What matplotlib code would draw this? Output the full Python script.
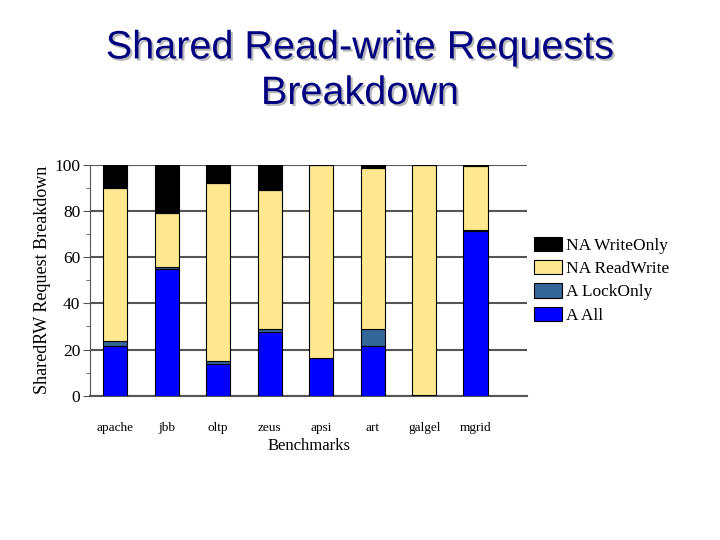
import matplotlib
matplotlib.use('Agg')
import matplotlib.pyplot as plt
import matplotlib.patheffects as pe
import numpy as np
from matplotlib.ticker import MultipleLocator

# Data (percent of shared RW requests)
benchmarks = ['apache', 'jbb', 'oltp', 'zeus', 'apsi', 'art', 'galgel', 'mgrid']
a_all = [21.5, 54.8, 13.6, 27.5, 16.2, 21.5, 0.3, 71.3]
a_lockonly = [2.3, 0.8, 1.4, 1.4, 0.3, 7.3, 0.2, 0.4]
na_readwrite = [66.1, 23.7, 77.1, 60.3, 83.5, 69.9, 99.5, 27.8]
na_writeonly = [10.1, 20.7, 7.9, 10.8, 0.0, 1.3, 0.0, 0.5]

series = [
    ('A All', a_all, '#0000ff'),
    ('A LockOnly', a_lockonly, '#336699'),
    ('NA ReadWrite', na_readwrite, '#ffe890'),
    ('NA WriteOnly', na_writeonly, '#000000'),
]

serif = ['Liberation Serif', 'DejaVu Serif']

fig = plt.figure(figsize=(7.2, 5.4), dpi=100)
ax = fig.add_axes([0.125, 0.267, 0.607, 0.428])

x = np.arange(len(benchmarks))
bottom = np.zeros(len(benchmarks))
handles = []
for label, vals, color in series:
    h = ax.bar(x, vals, 0.47, bottom=bottom, color=color, edgecolor='black',
               linewidth=0.8, label=label, zorder=3)
    handles.append(h)
    bottom += np.array(vals)

ax.set_xlim(-0.49, 8.0)
ax.set_ylim(0, 100)
ax.yaxis.set_major_locator(MultipleLocator(20))
ax.yaxis.set_minor_locator(MultipleLocator(10))
ax.grid(axis='y', color='#555555', linewidth=1.5, zorder=0)

for s in ['top', 'right']:
    ax.spines[s].set_visible(False)
ax.spines['left'].set_color('#555555')
ax.spines['bottom'].set_color('#555555')
ax.spines['bottom'].set_linewidth(1.5)

ax.set_xticks(x)
ax.set_xticklabels(benchmarks, family=serif, fontsize=9.5)
ax.tick_params(axis='x', length=0, pad=19)
ax.tick_params(axis='y', which='major', length=5, color='#555555', labelsize=12.5, pad=2)
ax.tick_params(axis='y', which='minor', length=3, color='#555555')
for t in ax.get_yticklabels():
    t.set_family(serif)

ax.set_xlabel('Benchmarks', family=serif, fontsize=12, labelpad=3)
ax.set_ylabel('SharedRW Request Breakdown', family=serif, fontsize=13, labelpad=2)

ax.legend(handles[::-1], [s[0] for s in series][::-1], loc='center left',
          bbox_to_anchor=(1.0, 0.5), frameon=False,
          prop={'family': serif, 'size': 12.5}, handlelength=1.6,
          handleheight=0.9, handletextpad=0.25, labelspacing=0.35,
          borderaxespad=0.0)

fig.text(0.5, 0.87, 'Shared Read-write Requests\nBreakdown', ha='center', va='center',
         fontsize=28.5, color='#000080', family=['Liberation Sans', 'DejaVu Sans'],
         linespacing=1.25,
         path_effects=[pe.SimplePatchShadow(offset=(1.5, -1.5), shadow_rgbFace='#b8b8b8', alpha=1),
                       pe.Normal()])

fig.savefig('out.png', dpi=100)
